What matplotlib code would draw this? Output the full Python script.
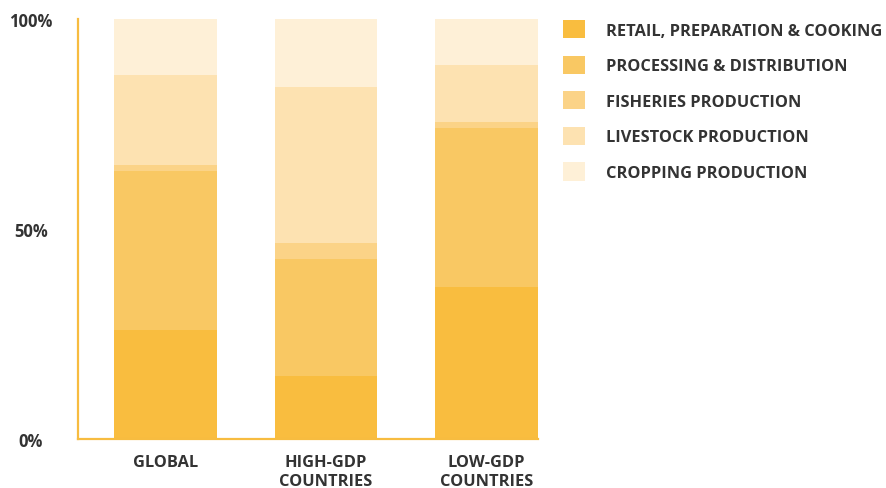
import matplotlib.pyplot as plt
import numpy as np

plt.rcParams['font.family'] = ['Open Sans', 'DejaVu Sans']

# share of food-system emissions by stage (%)
regions = ["GLOBAL", "HIGH-GDP\nCOUNTRIES", "LOW-GDP\nCOUNTRIES"]
stages = ["RETAIL, PREPARATION & COOKING", "PROCESSING & DISTRIBUTION",
          "FISHERIES PRODUCTION", "LIVESTOCK PRODUCTION", "CROPPING PRODUCTION"]
retail = [26.0, 15.0, 36.3]
processing = [37.8, 27.9, 37.8]
fisheries = [1.4, 3.8, 1.4]
livestock = [21.5, 37.1, 13.5]
cropping = [13.3, 16.2, 11.0]

colors = ["#F9BD3F", "#F9C863", "#FBD387", "#FDE2B1", "#FEF0D7"]
axis_color = "#F7BC40"
text_color = "#333333"

fig = plt.figure(figsize=(8.86, 4.89), dpi=100)
ax = fig.add_axes([78 / 886, 49 / 489, 460 / 886, 420 / 489])

x = np.arange(len(regions))
bottom = np.zeros(len(regions))
bars = []
for vals, col, name in zip([retail, processing, fisheries, livestock, cropping], colors, stages):
    b = ax.bar(x, vals, width=0.6375, bottom=bottom, color=col, label=name, linewidth=0)
    bars.append(b)
    bottom += np.array(vals)

ax.set_xlim(-0.544, 2.32)
ax.set_ylim(0, 100)

for s in ["top", "right"]:
    ax.spines[s].set_visible(False)
for s in ["left", "bottom"]:
    ax.spines[s].set_color(axis_color)
    ax.spines[s].set_linewidth(1.6)

ax.set_yticks([0, 50, 100])
ax.set_yticklabels(["0%", "50%", "100%"], fontsize=12, fontweight="bold",
                   color=text_color, ha="center")
ax.tick_params(axis="y", length=0, pad=34)
ax.set_xticks(x)
ax.set_xticklabels(regions, fontsize=11.75, fontweight="bold", color=text_color,
                   linespacing=1.25)
ax.tick_params(axis="x", length=0, pad=11)

leg = fig.legend(handles=bars, labels=stages, loc="upper left",
                 bbox_to_anchor=(563 / 886, 1 - 21 / 489), frameon=False,
                 prop={"size": 11.75, "weight": "bold"}, handlelength=1.35,
                 handleheight=1.35, handletextpad=1.3, labelspacing=1.04,
                 borderaxespad=0, borderpad=0)
for t in leg.get_texts():
    t.set_color(text_color)

fig.savefig("out.png", dpi=100)
